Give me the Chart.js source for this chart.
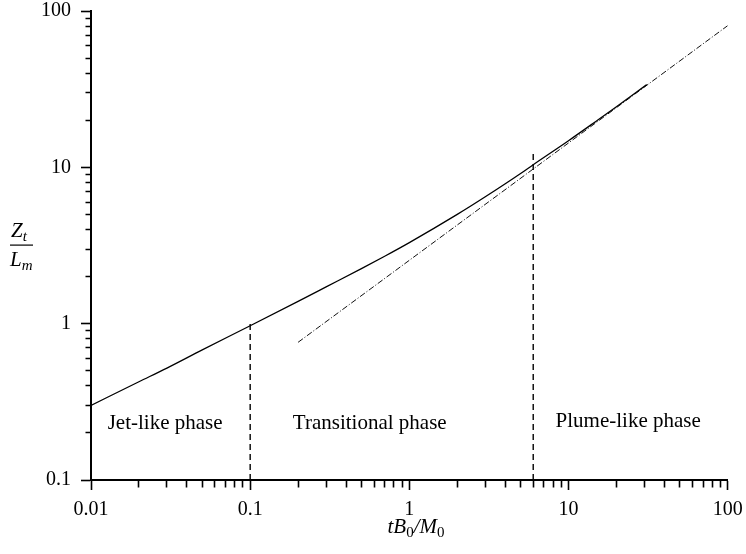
<!DOCTYPE html>
<html>
<head>
<meta charset="utf-8">
<script src="https://cdn.jsdelivr.net/npm/chart.js@4.4.1/dist/chart.umd.min.js"></script>
<style>
  body { margin: 0; background: #fff; }
  #wrap { width: 746px; height: 554px; position: relative; }
</style>
</head>
<body>
<div id="wrap"><canvas id="c"></canvas></div>
<script>
// curve
const tVals = [0.01, 0.02, 0.03, 0.05, 0.1, 0.2, 0.3, 0.5, 0.7, 1, 2, 3, 5, 6, 10, 15, 20, 31];
const zVals = [0.30, 0.425, 0.52, 0.68, 0.97, 1.39, 1.72, 2.25, 2.70, 3.30, 5.0, 6.48, 9.13, 10.4, 14.8, 19.8, 24.4, 33.8];

// plume asymptote (dash-dot)
const plumeT = [0.2, 100];
const plumeZ = [0.76, 80.6];

// phase boundaries (dashed)
const jetEndT = [0.1, 0.1];
const jetEndZ = [0.1, 1.0];
const plumeStartT = [6, 6];
const plumeStartZ = [0.1, 12.2];

const xMajor = [0.01, 0.1, 1, 10, 100];
const xTickLabels = ['0.01', '0.1', '1', '10', '100'];
const yMajor = [0.1, 1, 10, 100];
const yTickLabels = ['0.1', '1', '10', '100'];
const minorMult = [2, 3, 4, 5, 6, 7, 8, 9];

const phaseLabels = ['Jet-like phase', 'Transitional phase', 'Plume-like phase'];
const phaseX = [0.0292, 0.564, 23.7];
const phaseY = [0.23, 0.23, 0.237];

const pts = (xs, ys) => xs.map((x, i) => ({ x: x, y: ys[i] }));

function allTicks(majors) {
  const out = [];
  majors.forEach((m, i) => {
    out.push(m);
    if (i < majors.length - 1) minorMult.forEach(k => out.push(+(m * k).toPrecision(6)));
  });
  return out;
}

const isMajor = (v, majors) => majors.some(m => Math.abs(v / m - 1) < 1e-6);

const serif = '"Liberation Serif", "Times New Roman", serif';

function axis(majors, labels, pos) {
  return {
    type: 'logarithmic',
    position: pos,
    min: majors[0],
    max: majors[majors.length - 1],
    afterBuildTicks: s => { s.ticks = allTicks(majors).map(v => ({ value: v })); },
    afterFit: s => {
      if (pos === 'left') {
        s.width = 91;
        s.paddingTop = 0;
        s.paddingBottom = 0;
      } else {
        s.height = 74;
        s.paddingLeft = 0;
        s.paddingRight = 0;
      }
    },
    border: { display: true, color: '#000', width: 2 },
    grid: {
      display: true,
      drawOnChartArea: false,
      drawTicks: true,
      tickLength: 10,
      tickWidth: 1.6,
      tickColor: '#000',
      tickBorderDash: ctx => {
        if (!ctx.tick || isMajor(ctx.tick.value, majors)) return [];
        return pos === 'left' ? [0, 4.5, 7, 50] : [6.5, 50];
      }
    },
    ticks: {
      autoSkip: false,
      maxRotation: 0,
      color: '#000',
      padding: pos === 'left' ? 10 : 8,
      font: { family: serif, size: 20 },
      callback: v => {
        const i = majors.findIndex(m => Math.abs(v / m - 1) < 1e-6);
        return i >= 0 ? labels[i] : '';
      }
    }
  };
}

const textPlugin = {
  id: 'texts',
  afterDraw(chart) {
    const { ctx, scales } = chart;
    ctx.save();
    ctx.fillStyle = '#000';

    // phase labels, placed in data coordinates
    ctx.font = '21px ' + serif;
    ctx.textAlign = 'center';
    ctx.textBaseline = 'middle';
    phaseLabels.forEach((txt, i) => {
      ctx.fillText(txt, scales.x.getPixelForValue(phaseX[i]), scales.y.getPixelForValue(phaseY[i]));
    });

    // x title: tB0/M0
    ctx.textAlign = 'left';
    ctx.textBaseline = 'alphabetic';
    const big = 'italic 21px ' + serif;
    const sub = '15px ' + serif;
    const parts = [['tB', big, 0], ['0', sub, 4], ['/M', big, 0], ['0', sub, 4]];
    let w = 0;
    parts.forEach(p => { ctx.font = p[1]; w += ctx.measureText(p[0]).width; });
    let x = 416 - w / 2;
    parts.forEach(p => {
      ctx.font = p[1];
      ctx.fillText(p[0], x, 533 + p[2]);
      x += ctx.measureText(p[0]).width;
    });

    // y title: Zt over Lm
    const subI = 'italic 15px ' + serif;
    ctx.font = big;
    ctx.fillText('Z', 11, 237);
    const zw = ctx.measureText('Z').width;
    ctx.font = subI;
    ctx.fillText('t', 11 + zw, 241);
    ctx.font = big;
    ctx.fillText('L', 10, 266);
    const lw = ctx.measureText('L').width;
    ctx.font = subI;
    ctx.fillText('m', 10 + lw, 270);
    ctx.fillRect(10, 244.5, 23, 1.2);

    ctx.restore();
  }
};

new Chart(document.getElementById('c'), {
  type: 'line',
  data: {
    datasets: [
      {
        data: pts(tVals, zVals),
        borderColor: '#000',
        borderWidth: 1.3,
        pointRadius: 0,
        cubicInterpolationMode: 'monotone'
      },
      {
        data: pts(plumeT, plumeZ),
        borderColor: '#111',
        borderWidth: 1,
        borderDash: [6, 2, 1, 2],
        pointRadius: 0
      },
      {
        data: pts(jetEndT, jetEndZ),
        borderColor: '#000',
        borderWidth: 1.4,
        borderDash: [6, 4],
        pointRadius: 0
      },
      {
        data: pts(plumeStartT, plumeStartZ),
        borderColor: '#000',
        borderWidth: 1.4,
        borderDash: [6, 4],
        pointRadius: 0
      }
    ]
  },
  options: {
    responsive: true,
    maintainAspectRatio: false,
    animation: false,
    layout: { padding: { top: 11, right: 18.3, left: 0, bottom: 0 } },
    plugins: { legend: { display: false }, tooltip: { enabled: false } },
    scales: {
      x: axis(xMajor, xTickLabels, 'bottom'),
      y: axis(yMajor, yTickLabels, 'left')
    }
  },
  plugins: [textPlugin]
});
</script>
</body>
</html>
